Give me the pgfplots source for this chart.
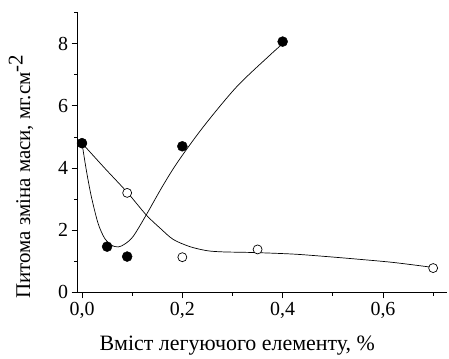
\documentclass[border=0pt]{standalone}
\usepackage{fontspec}
\setmainfont{Liberation Serif}
\usepackage{pgfplots}
\pgfplotsset{compat=1.18}
\begin{document}
\begin{tikzpicture}
\begin{axis}[
  name=ax,
  at={(0,0)}, anchor=south west,
  scale only axis,
  width=369bp, height=279.6bp,
  xmin=-0.0086, xmax=0.727,
  ymin=0, ymax=9,
  axis x line*=bottom, axis y line*=left,
  axis line style={-, line width=0.8pt},
  tick align=outside,
  major tick length=6bp, minor tick length=3.5bp,
  tick style={line width=0.8pt, black},
  xtick={0,0.2,0.4,0.6},
  minor xtick={0.1,0.3,0.5,0.7},
  ytick={0,2,4,6,8},
  minor ytick={1,3,5,7,9},
  xticklabel style={/pgf/number format/.cd, fixed, fixed zerofill, precision=1, use comma},
  yticklabel style={/pgf/number format/.cd, fixed, precision=0},
  /pgf/number format/assume math mode=true,
  tick label style={font=\fontsize{20}{22}\selectfont},
  xlabel={Вміст легуючого елементу, \%},
  ylabel={Питома зміна маси, мг.см$^{\textrm{-2}}$},
  xlabel style={font=\fontsize{22}{25}\selectfont, xshift=-25bp, yshift=-11bp},
  ylabel style={font=\fontsize{21}{24}\selectfont, yshift=18bp, xshift=-24bp},
  clip=false,
]
% fitted curves
\addplot[black, line width=0.7pt, smooth, no marks] coordinates {
(0,4.8)(0.0086,3.93)(0.0186,3.08)(0.032,2.22)(0.045,1.74)(0.058,1.52)(0.072,1.46)(0.085,1.55)(0.102,1.80)(0.128,2.49)(0.16,3.4)(0.191,4.2)(0.242,5.33)(0.308,6.61)(0.375,7.64)(0.4,8.0)};
\addplot[black, line width=0.7pt, smooth, no marks] coordinates {
(0,4.8)(0.045,4.0)(0.09,3.22)(0.128,2.49)(0.156,2.06)(0.182,1.70)(0.215,1.47)(0.249,1.34)(0.282,1.30)(0.342,1.28)(0.421,1.23)(0.488,1.15)(0.554,1.06)(0.621,0.96)(0.70,0.80)};
% measured points
\addplot[only marks, mark=*, mark size=4.5bp, mark options={fill=white, draw=black, line width=0.7pt}] coordinates {
(0,4.8)(0.09,3.2)(0.2,1.13)(0.35,1.38)(0.7,0.78)};
\addplot[only marks, mark=*, mark size=5bp, mark options={fill=black, draw=black}] coordinates {
(0,4.8)(0.05,1.47)(0.09,1.15)(0.2,4.7)(0.4,8.07)};
\end{axis}
\path[use as bounding box] ([xshift=-77.7bp,yshift=-63.7bp]ax.south west) rectangle ([xshift=2.3bp,yshift=12.7bp]ax.north east);
\end{tikzpicture}
\end{document}
